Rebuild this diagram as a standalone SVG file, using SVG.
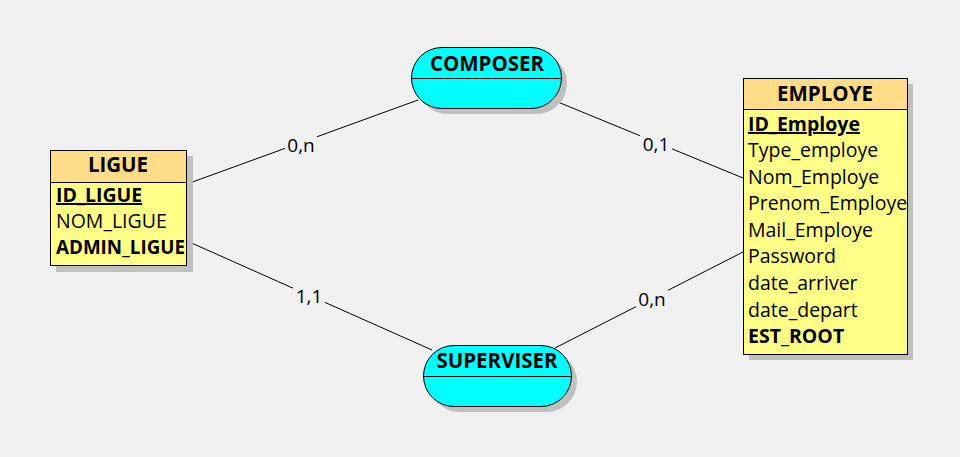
<svg xmlns="http://www.w3.org/2000/svg" width="960" height="457" viewBox="0 0 960 457">
  <style>
    .bg { fill: #f0f0f0; }
    .shadow { fill: #c0c0c0; }
    .head { fill: #ffdd88; stroke: #000; stroke-width: 1; }
    .body { fill: #ffff88; stroke: #000; stroke-width: 1; }
    .assoc { fill: #00ffff; stroke: #000; stroke-width: 1; }
    .title { font-family: "Open Sans", "DejaVu Sans", sans-serif; font-size: 20.5px; font-weight: bold; fill: #000; text-anchor: middle; }
    .attr { font-family: "Open Sans", "DejaVu Sans", sans-serif; font-size: 19.5px; fill: #000; }
    .key { font-weight: bold; text-decoration: underline; }
    .bold { font-weight: bold; }
    .link { stroke: #000; stroke-width: 1; fill: none; }
    .card { font-family: "Open Sans", "DejaVu Sans", sans-serif; font-size: 19px; fill: #000; text-anchor: middle; }
    .gap { fill: #f0f0f0; }
  </style>

  <rect class="bg" x="0" y="0" width="960" height="457"/>

  <!-- connectors with cardinality labels -->
  <g id="connectors">
    <line class="link" x1="187" y1="184" x2="418" y2="100"/>
    <line class="link" x1="553" y1="100" x2="743" y2="178"/>
    <line class="link" x1="187" y1="241" x2="432" y2="350"/>
    <line class="link" x1="555" y1="348" x2="743" y2="252"/>
    <rect class="gap" x="285" y="135" width="32" height="22"/>
    <text class="card" x="301" y="152">0,n</text>
    <rect class="gap" x="640" y="134" width="32" height="22"/>
    <text class="card" x="656" y="151">0,1</text>
    <rect class="gap" x="293" y="286" width="32" height="22"/>
    <text class="card" x="309" y="303">1,1</text>
    <rect class="gap" x="636" y="289" width="32" height="22"/>
    <text class="card" x="652" y="306">0,n</text>
  </g>

  <!-- entity LIGUE -->
  <g id="ligue">
    <rect class="shadow" x="56" y="156" width="137" height="116"/>
    <rect class="body" x="50.5" y="150.5" width="136" height="115"/>
    <rect class="head" x="50.5" y="150.5" width="136" height="32"/>
    <text class="title" x="118" y="172">LIGUE</text>
    <text class="attr key" x="56" y="202">ID_LIGUE</text>
    <text class="attr" x="56" y="228">NOM_LIGUE</text>
    <text class="attr bold" x="56" y="254" textLength="129" lengthAdjust="spacingAndGlyphs">ADMIN_LIGUE</text>
  </g>

  <!-- entity EMPLOYE -->
  <g id="employe">
    <rect class="shadow" x="749" y="84" width="164" height="276"/>
    <rect class="body" x="743.5" y="78.5" width="164" height="276"/>
    <rect class="head" x="743.5" y="78.5" width="164" height="31"/>
    <text class="title" x="825" y="101">EMPLOYE</text>
    <text class="attr key" x="748" y="131">ID_Employe</text>
    <text class="attr" x="748" y="157">Type_employe</text>
    <text class="attr" x="748" y="184">Nom_Employe</text>
    <text class="attr" x="748" y="210">Prenom_Employe</text>
    <text class="attr" x="748" y="237">Mail_Employe</text>
    <text class="attr" x="748" y="263">Password</text>
    <text class="attr" x="748" y="290">date_arriver</text>
    <text class="attr" x="748" y="317">date_depart</text>
    <text class="attr bold" x="748" y="343">EST_ROOT</text>
  </g>

  <!-- association COMPOSER -->
  <g id="composer">
    <rect class="shadow" x="417" y="53" width="150" height="61" rx="30.5"/>
    <rect class="assoc" x="411.5" y="47.5" width="150" height="61" rx="30.5"/>
    <line class="link" x1="411.5" y1="78.5" x2="561.5" y2="78.5"/>
    <text class="title" x="487" y="71">COMPOSER</text>
  </g>

  <!-- association SUPERVISER -->
  <g id="superviser">
    <rect class="shadow" x="429" y="351" width="148" height="61" rx="30.5"/>
    <rect class="assoc" x="423.5" y="345.5" width="148" height="61" rx="30.5"/>
    <line class="link" x1="423.5" y1="376.5" x2="571.5" y2="376.5"/>
    <text class="title" x="497" y="368">SUPERVISER</text>
  </g>
</svg>
